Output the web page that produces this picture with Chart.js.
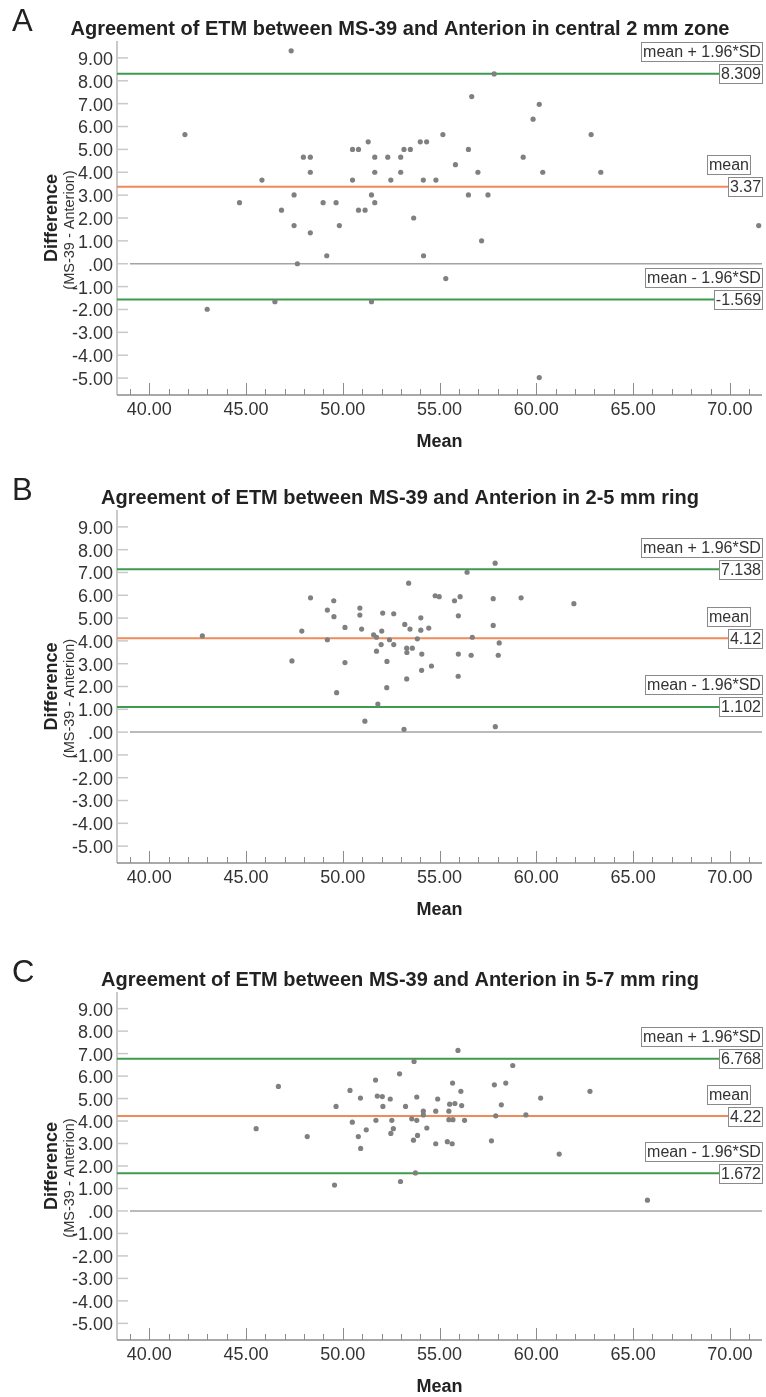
<!DOCTYPE html>
<html>
<head>
<meta charset="utf-8">
<title>Bland-Altman plots of ETM: MS-39 vs Anterion</title>
<script src="https://cdn.jsdelivr.net/npm/chart.js@4.4.0/dist/chart.umd.min.js"></script>
<style>
    html, body { margin: 0; padding: 0; background: #fff; }
    #page { position: relative; width: 766px; height: 1397px; overflow: hidden; }
    .panel { position: absolute; left: 0; width: 766px; }
    .panel canvas { display: block; }
</style>
</head>
<body>
<div id="page">
    <div class="panel" style="top:0px"><canvas id="chartA" width="766" height="460"></canvas></div>
    <div class="panel" style="top:460px"><canvas id="chartB" width="766" height="460"></canvas></div>
    <div class="panel" style="top:920px"><canvas id="chartC" width="766" height="477"></canvas></div>
</div>
<script>
// =====================================================
// Data
// x = mean of the two devices, y = difference (MS-39 - Anterion)
// =====================================================
const panelLetters = ['A', 'B', 'C'];
const panelTitles = [
    'Agreement of ETM between MS-39 and Anterion in central 2 mm zone',
    'Agreement of ETM between MS-39 and Anterion in 2-5 mm ring',
    'Agreement of ETM between MS-39 and Anterion in 5-7 mm ring'
];

const meanA = [41.84, 42.99, 44.66, 45.82, 46.49, 46.83, 47.33, 47.48, 47.48, 47.65, 47.96, 48.32, 48.32, 48.32, 48.98,
    49.17, 49.65, 49.82, 50.50, 50.81, 50.50, 50.81, 51.15, 51.31, 51.48, 51.65, 51.65, 51.65, 51.48, 52.32, 52.48,
    52.99, 52.99, 53.16, 53.49, 53.66, 54.00, 54.33, 54.16, 54.17, 54.81, 55.17, 55.32, 55.82, 56.49, 56.66, 56.98,
    56.49, 57.17, 57.50, 57.82, 59.32, 59.83, 60.15, 60.33, 60.15, 62.83, 63.33, 71.49];
const diffA = [5.65, -1.99, 2.67, 3.66, -1.66, 2.34, 9.31, 3.01, 1.67, 0.00, 4.66, 4.66, 4.00, 1.35, 2.67,
    0.35, 2.67, 1.67, 5.00, 5.00, 3.66, 2.34, 2.34, 5.33, 3.01, 4.66, 4.00, 2.67, -1.66, 4.66, 3.66,
    4.66, 4.00, 5.00, 5.00, 2.00, 5.33, 5.33, 3.66, 0.35, 3.66, 5.65, -0.65, 4.33, 5.00, 7.31, 4.00,
    3.01, 1.00, 3.01, 8.30, 4.66, 6.32, 6.97, 4.00, -4.98, 5.65, 4.00, 1.67];

const meanB = [42.74, 47.37, 47.88, 48.33, 49.20, 49.53, 49.54, 49.20, 50.11, 50.11, 49.68, 50.88, 50.88, 50.97, 51.14,
    51.59, 51.74, 51.74, 51.81, 51.98, 52.01, 52.06, 52.27, 52.28, 52.41, 52.63, 52.63, 53.16, 53.20, 53.30,
    53.30, 53.31, 53.40, 53.47, 53.59, 53.85, 54.03, 54.03, 54.07, 54.08, 54.44, 54.58, 54.77, 54.98, 55.77,
    55.96, 55.97, 55.97, 56.06, 56.42, 56.63, 56.69, 57.77, 57.77, 57.87, 57.88, 58.03, 58.08, 59.21, 61.94];
const diffB = [4.22, 3.12, 4.43, 5.89, 5.35, 5.76, 5.06, 4.05, 4.59, 3.05, 1.73, 5.44, 5.13, 4.52, 0.48,
    4.27, 4.16, 3.55, 1.23, 3.84, 4.43, 5.22, 1.95, 3.10, 4.05, 5.19, 3.84, 0.12, 4.72, 3.68,
    2.33, 3.49, 6.53, 4.52, 3.68, 4.09, 5.01, 4.47, 2.71, 3.42, 4.56, 2.90, 5.98, 5.94, 5.76,
    2.45, 5.10, 3.42, 5.94, 7.01, 3.37, 4.16, 5.85, 4.68, 7.41, 0.24, 3.37, 3.91, 5.89, 5.63];

const meanC = [45.52, 46.67, 48.16, 49.57, 49.65, 50.37, 50.49, 50.80, 50.91, 50.92, 51.21, 51.69, 51.71, 51.78, 52.04,
    52.07, 52.45, 52.48, 52.53, 52.61, 52.93, 52.98, 53.24, 53.56, 53.65, 53.68, 53.75, 53.82, 53.82, 53.86,
    54.16, 54.16, 54.34, 54.80, 54.80, 54.90, 55.40, 55.48, 55.48, 55.52, 55.65, 55.67, 55.69, 55.79, 55.95,
    56.10, 56.14, 56.29, 57.68, 57.83, 57.90, 58.19, 58.42, 58.78, 59.46, 60.22, 61.18, 62.77, 65.74];
const diffC = [3.66, 5.54, 3.31, 1.15, 4.65, 5.36, 3.95, 3.31, 5.02, 2.78, 3.61, 5.82, 4.03, 5.11, 5.09,
    4.65, 4.98, 3.45, 4.03, 3.66, 6.10, 1.31, 4.65, 4.10, 3.15, 6.65, 1.69, 5.07, 4.03, 3.36,
    4.44, 4.27, 3.69, 4.44, 2.99, 4.98, 3.08, 4.44, 4.06, 4.75, 2.99, 5.69, 4.06, 4.78, 7.14,
    5.32, 4.69, 4.03, 3.12, 5.61, 4.23, 4.72, 5.69, 6.47, 4.27, 5.02, 2.53, 5.32, 0.48];

// Mean difference and limits of agreement (mean +/- 1.96*SD)
const meanDiff = [3.37, 4.12, 4.22];
const upperLimit = [8.309, 7.138, 6.768];
const lowerLimit = [-1.569, 1.102, 1.672];
const meanDiffText = ['3.37', '4.12', '4.22'];
const upperLimitText = ['8.309', '7.138', '6.768'];
const lowerLimitText = ['-1.569', '1.102', '1.672'];

// Axis ranges and tick labels
const xTicks = [40, 45, 50, 55, 60, 65, 70];
const yTicks = [9, 8, 7, 6, 5, 4, 3, 2, 1, 0, -1, -2, -3, -4, -5];
const X_MIN = 38.33, X_MAX = 71.66;
const Y_MIN = -5.74, Y_MAX = 9.74;
const ZERO_LINE_START = 39.0; // reference line at 0 starts a bit right of the axis

// =====================================================
// Styling
// =====================================================
const FONT = '"Liberation Sans", Arial, Helvetica, sans-serif';
const TEXT_COLOR = '#333333';
const POINT_COLOR = '#808080';
const GREEN = '#3e9a4c';
const ORANGE = '#f08a5a';

// Where each plot area sits inside its canvas (pixels)
const panelLayout = [
    { id: 'chartA', height: 460, top: 41, bottom: 395 },
    { id: 'chartB', height: 460, top: 50, bottom: 403 },
    { id: 'chartC', height: 477, top: 72, bottom: 420 }
];

// =====================================================
// Draws a white box with a grey frame and centred text
// =====================================================
function drawBox(ctx, text, right, centerY) {
    ctx.font = '16px ' + FONT;
    const w = Math.round(ctx.measureText(text).width + 3);
    const h = 19;
    const left = Math.round(right - w) + 0.5;
    const top = Math.round(centerY - h / 2) + 0.5;
    ctx.fillStyle = '#ffffff';
    ctx.fillRect(left, top, w, h);
    ctx.strokeStyle = '#8a8a8a';
    ctx.lineWidth = 1;
    ctx.strokeRect(left, top, w, h);
    ctx.fillStyle = TEXT_COLOR;
    ctx.textAlign = 'center';
    ctx.textBaseline = 'middle';
    ctx.fillText(text, left + w / 2, top + h / 2 + 1);
}

// =====================================================
// Plugin: SPSS-like axis lines, inward ticks, labels and titles
// =====================================================
const blandAltmanDecor = {
    id: 'blandAltmanDecor',
    beforeDatasetsDraw(chart) {
        const { ctx, chartArea: area, scales } = chart;
        ctx.save();
        // y axis line and inward ticks (light grey)
        ctx.strokeStyle = '#c9c9c9';
        ctx.lineWidth = 2;
        ctx.beginPath();
        ctx.moveTo(area.left, area.top);
        ctx.lineTo(area.left, area.bottom);
        ctx.stroke();
        ctx.lineWidth = 1.5;
        yTicks.forEach(v => {
            const y = scales.y.getPixelForValue(v);
            ctx.beginPath();
            ctx.moveTo(area.left, y);
            ctx.lineTo(area.left + 11, y);
            ctx.stroke();
        });
        // x axis line with major and minor ticks (darker grey)
        ctx.strokeStyle = '#8c8c8c';
        ctx.lineWidth = 1.5;
        ctx.beginPath();
        ctx.moveTo(area.left, area.bottom);
        ctx.lineTo(area.right, area.bottom);
        ctx.stroke();
        ctx.lineWidth = 1;
        for (let v = Math.ceil(X_MIN); v <= Math.floor(X_MAX); v++) {
            const x = Math.round(scales.x.getPixelForValue(v)) + 0.5;
            const len = (v % 5 === 0) ? 12 : 6;
            ctx.beginPath();
            ctx.moveTo(x, area.bottom);
            ctx.lineTo(x, area.bottom - len);
            ctx.stroke();
        }
        ctx.restore();
    },
    afterDatasetsDraw(chart, args, opts) {
        const { ctx, chartArea: area, scales } = chart;
        const i = opts.index;
        ctx.save();
        const yUp = scales.y.getPixelForValue(upperLimit[i]);
        const yMean = scales.y.getPixelForValue(meanDiff[i]);
        const yLow = scales.y.getPixelForValue(lowerLimit[i]);
        // label boxes above each line, value boxes on the line end
        drawBox(ctx, 'mean + 1.96*SD', area.right, yUp - 22);
        drawBox(ctx, upperLimitText[i], area.right, yUp);
        drawBox(ctx, 'mean', area.right - 12, yMean - 22);
        drawBox(ctx, meanDiffText[i], area.right, yMean);
        drawBox(ctx, 'mean - 1.96*SD', area.right, yLow - 22);
        drawBox(ctx, lowerLimitText[i], area.right, yLow);
        ctx.restore();
    },
    afterDraw(chart, args, opts) {
        const { ctx, chartArea: area } = chart;
        const i = opts.index;
        const midY = (area.top + area.bottom) / 2;
        ctx.save();
        ctx.fillStyle = '#222222';
        // panel letter
        ctx.font = '31px ' + FONT;
        ctx.textAlign = 'left';
        ctx.textBaseline = 'alphabetic';
        ctx.fillText(panelLetters[i], 12, area.top - 10);
        // chart title
        ctx.font = 'bold 20px ' + FONT;
        ctx.textAlign = 'center';
        ctx.fillText(panelTitles[i], 400, area.top - 6.5);
        // x axis title
        ctx.font = 'bold 18px ' + FONT;
        ctx.fillText('Mean', (area.left + area.right) / 2, area.bottom + 51.5);
        // y axis title (two lines, rotated)
        ctx.save();
        ctx.translate(56.5, midY);
        ctx.rotate(-Math.PI / 2);
        ctx.fillText('Difference', 0, 0);
        ctx.restore();
        ctx.save();
        ctx.translate(73.5, midY + 12);
        ctx.rotate(-Math.PI / 2);
        ctx.font = '14.5px ' + FONT;
        ctx.fillStyle = TEXT_COLOR;
        ctx.fillText('(MS-39 - Anterion)', 0, 0);
        ctx.restore();
        ctx.restore();
    }
};

// =====================================================
// Builds one Bland-Altman chart
// =====================================================
function buildPanel(i, means, diffs) {
    const layout = panelLayout[i];
    const points = means.map((m, k) => ({ x: m, y: diffs[k] }));
    const hLine = (v) => [{ x: X_MIN, y: v }, { x: X_MAX, y: v }];

    const ctx = document.getElementById(layout.id).getContext('2d');
    return new Chart(ctx, {
        type: 'scatter',
        data: {
            datasets: [
                { // measurements (first dataset is drawn on top)
                    data: points,
                    pointRadius: 2.6,
                    pointBackgroundColor: POINT_COLOR,
                    pointBorderWidth: 0
                },
                { data: hLine(upperLimit[i]), showLine: true, borderColor: GREEN, borderWidth: 2, pointRadius: 0 },
                { data: hLine(meanDiff[i]), showLine: true, borderColor: ORANGE, borderWidth: 2, pointRadius: 0 },
                { data: hLine(lowerLimit[i]), showLine: true, borderColor: GREEN, borderWidth: 2, pointRadius: 0 },
                { data: [{ x: ZERO_LINE_START, y: 0 }, { x: X_MAX, y: 0 }], showLine: true, borderColor: '#a3a3a3', borderWidth: 1.5, pointRadius: 0 }
            ]
        },
        options: {
            responsive: false,
            animation: false,
            devicePixelRatio: 1,
            layout: { padding: { top: layout.top, left: 0, right: 1, bottom: 0 } },
            plugins: {
                legend: { display: false },
                tooltip: { enabled: false },
                blandAltmanDecor: { index: i }
            },
            scales: {
                x: {
                    type: 'linear',
                    min: X_MIN,
                    max: X_MAX,
                    grid: { display: false, drawTicks: false },
                    border: { display: false },
                    ticks: {
                        autoSkip: false,
                        maxRotation: 0,
                        padding: 4,
                        color: TEXT_COLOR,
                        font: { family: FONT, size: 18 },
                        callback: v => v.toFixed(2)
                    },
                    afterBuildTicks: s => { s.ticks = xTicks.map(v => ({ value: v })); },
                    afterFit: s => { s.height = layout.height - layout.bottom; }
                },
                y: {
                    type: 'linear',
                    min: Y_MIN,
                    max: Y_MAX,
                    grid: { display: false, drawTicks: false },
                    border: { display: false },
                    ticks: {
                        autoSkip: false,
                        padding: 4,
                        labelOffset: 2,
                        color: TEXT_COLOR,
                        font: { family: FONT, size: 18 },
                        callback: v => (v === 0 ? '.00' : v.toFixed(2))
                    },
                    afterBuildTicks: s => { s.ticks = yTicks.map(v => ({ value: v })); },
                    afterFit: s => { s.width = 117; }
                }
            }
        },
        plugins: [blandAltmanDecor]
    });
}

buildPanel(0, meanA, diffA);
buildPanel(1, meanB, diffB);
buildPanel(2, meanC, diffC);
</script>
</body>
</html>
